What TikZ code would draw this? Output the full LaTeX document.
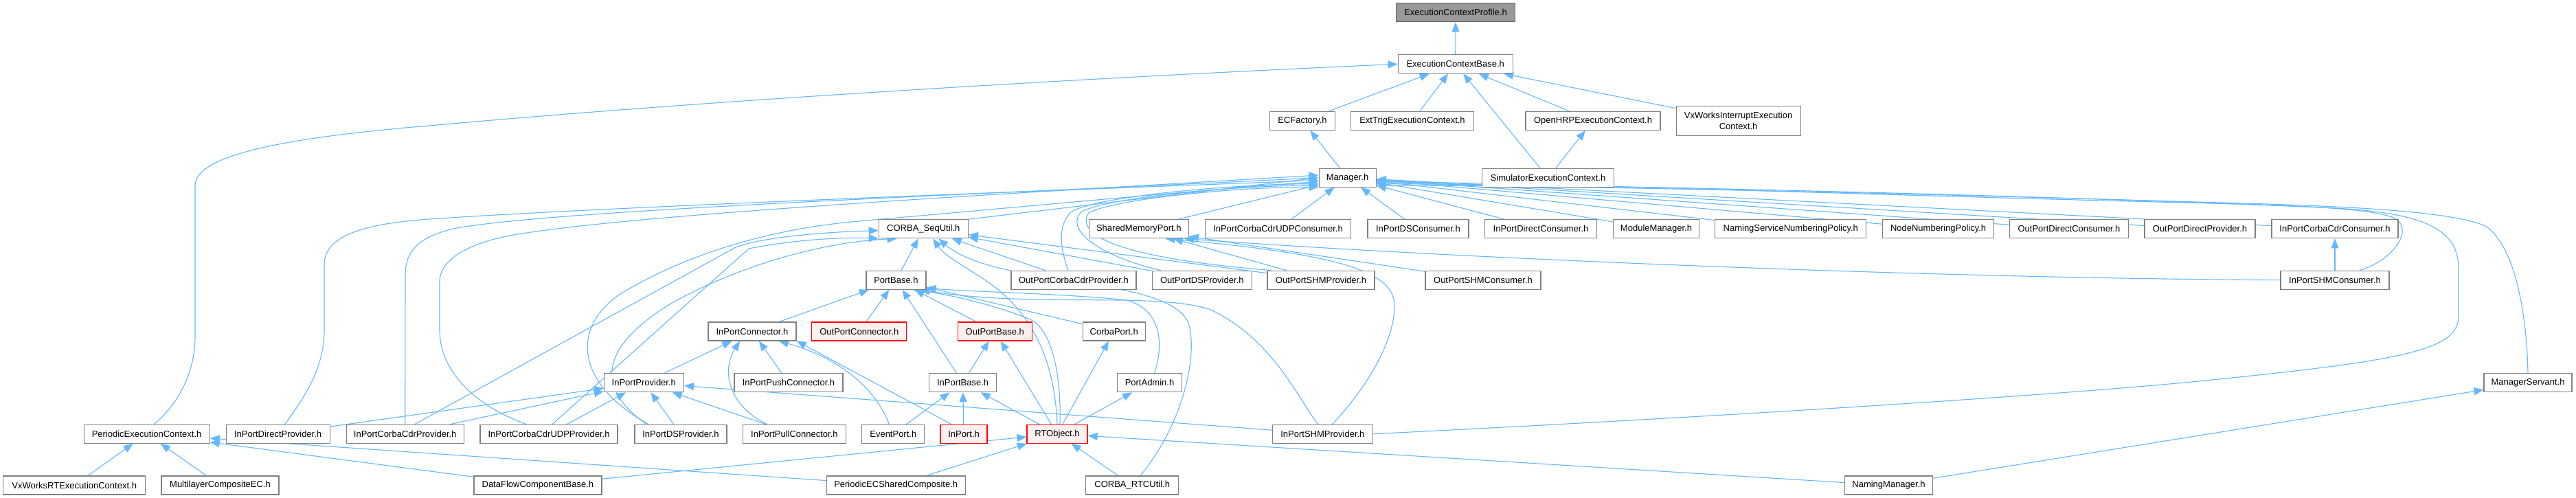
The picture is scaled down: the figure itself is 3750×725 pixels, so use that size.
\documentclass[tikz,border=0pt]{standalone}
\usepackage{fontspec}
\setmainfont{Liberation Sans}
\usetikzlibrary{arrows.meta}
\definecolor{edgeblue}{HTML}{63B8FF}
\definecolor{boxgray}{HTML}{808080}
\definecolor{rootgray}{HTML}{999999}
\definecolor{rootborder}{HTML}{666666}
\definecolor{redfill}{HTML}{FFF0F0}
\pgfdeclarelayer{back}
\pgfdeclarelayer{bg}
\pgfsetlayers{back,bg,main}
\begin{document}
\begin{tikzpicture}[x=1pt,y=-1pt,
  box/.style={draw=boxgray, fill=white, line width=1.2pt, minimum height=27pt, inner sep=0pt, font=\fontsize{13}{16}\selectfont, text=black, align=center},
  redbox/.style={box, draw=red, fill=redfill},
  rootbox/.style={box, draw=rootborder, fill=rootgray},
  dep/.style={draw=edgeblue, line width=1.1pt, -{Triangle[length=14pt,width=11pt]}}]
\useasboundingbox (0,0) rectangle (3750,725);
\begin{pgfonlayer}{back}
\fill[white] (0,0) rectangle (3750,725);
\end{pgfonlayer}
% row 1-4
\node[rootbox, minimum width=173pt] (prof) at (2119,18.3) {ExecutionContextProfile.h};
\node[box, minimum width=167pt] (ecb) at (2118.7,93.3) {ExecutionContextBase.h};
\node[box, minimum width=95pt] (ecf) at (1896,176) {ECFactory.h};
\node[box, minimum width=179pt] (ext) at (2056,176) {ExtTrigExecutionContext.h};
\node[box, minimum width=196pt] (ohrp) at (2319,176) {OpenHRPExecutionContext.h};
\node[box, minimum width=181pt, minimum height=43pt] (vxi) at (2530.6,175.8) {VxWorksInterruptExecution\\Context.h};
\node[box, minimum width=83pt] (mgr) at (1961.6,258.7) {Manager.h};
\node[box, minimum width=192pt] (sim) at (2253.5,258.7) {SimulatorExecutionContext.h};
% row 5
\node[box, minimum width=130pt] (seq) at (1344.3,333.3) {CORBA\_SeqUtil.h};
\node[box, minimum width=145pt] (shm) at (1657.8,333.3) {SharedMemoryPort.h};
\node[box, minimum width=212pt] (ipcudpc) at (1860.5,333.3) {InPortCorbaCdrUDPConsumer.h};
\node[box, minimum width=147pt] (ipdsc) at (2064.4,333.3) {InPortDSConsumer.h};
\node[box, minimum width=163pt] (ipdirc) at (2243,333.3) {InPortDirectConsumer.h};
\node[box, minimum width=125pt] (modm) at (2411,333.3) {ModuleManager.h};
\node[box, minimum width=220pt] (nsnp) at (2606.8,333.3) {NamingServiceNumberingPolicy.h};
\node[box, minimum width=162pt] (nnp) at (2821.6,333.3) {NodeNumberingPolicy.h};
\node[box, minimum width=173pt] (opdc) at (3012,333.3) {OutPortDirectConsumer.h};
\node[box, minimum width=161pt] (opdp) at (3202.5,333.3) {OutPortDirectProvider.h};
\node[box, minimum width=184pt] (ipccc) at (3399,333.3) {InPortCorbaCdrConsumer.h};
% row 6
\node[box, minimum width=87pt] (pb) at (1304.4,407.7) {PortBase.h};
\node[box, minimum width=182pt] (opccp) at (1562.9,407.7) {OutPortCorbaCdrProvider.h};
\node[box, minimum width=145pt] (opdsp) at (1749.8,407.7) {OutPortDSProvider.h};
\node[box, minimum width=156pt] (opshmp) at (1923,407.7) {OutPortSHMProvider.h};
\node[box, minimum width=168pt] (opshmc) at (2159,407.7) {OutPortSHMConsumer.h};
\node[box, minimum width=158pt] (ipshmc) at (3399,407.7) {InPortSHMConsumer.h};
% row 7
\node[box, minimum width=128pt] (ipconn) at (1095,482.5) {InPortConnector.h};
\node[redbox, minimum width=138pt] (opconn) at (1250.8,482.5) {OutPortConnector.h};
\node[redbox, minimum width=108pt] (opb) at (1448.3,482.5) {OutPortBase.h};
\node[box, minimum width=91pt] (cport) at (1621.7,482.5) {CorbaPort.h};
% row 8
\node[box, minimum width=116pt] (ipprov) at (937.3,557.2) {InPortProvider.h};
\node[box, minimum width=158pt] (ippush) at (1148,557.2) {InPortPushConnector.h};
\node[box, minimum width=98pt] (ipb) at (1401.6,557.2) {InPortBase.h};
\node[box, minimum width=94pt] (padm) at (1673.5,557.2) {PortAdmin.h};
\node[box, minimum width=128pt] (msrv) at (3680,557.2) {ManagerServant.h};
% row 9
\node[box, minimum width=183pt] (pec) at (213.6,631.7) {PeriodicExecutionContext.h};
\node[box, minimum width=151pt] (ipdirp) at (404.6,631.7) {InPortDirectProvider.h};
\node[box, minimum width=171pt] (ipccp) at (589.7,631.7) {InPortCorbaCdrProvider.h};
\node[box, minimum width=200pt] (ipcudpp) at (799,631.7) {InPortCorbaCdrUDPProvider.h};
\node[box, minimum width=134pt] (ipdsp) at (991,631.7) {InPortDSProvider.h};
\node[box, minimum width=150pt] (ippull) at (1156.4,631.7) {InPortPullConnector.h};
\node[box, minimum width=91pt] (evp) at (1300.3,631.7) {EventPort.h};
\node[redbox, minimum width=68pt] (inp) at (1403,631.7) {InPort.h};
\node[redbox, minimum width=88pt] (rto) at (1539,631.7) {RTObject.h};
\node[box, minimum width=146pt] (ipshmp) at (1925.4,631.7) {InPortSHMProvider.h};
% row 10
\node[box, minimum width=207pt] (vxrt) at (108.2,706.5) {VxWorksRTExecutionContext.h};
\node[box, minimum width=171pt] (mlc) at (320.5,706.5) {MultilayerCompositeEC.h};
\node[box, minimum width=186pt] (dfcb) at (782.9,706.5) {DataFlowComponentBase.h};
\node[box, minimum width=202pt] (pecsc) at (1304.2,706.5) {PeriodicECSharedComposite.h};
\node[box, minimum width=135pt] (rtcu) at (1648.2,706.5) {CORBA\_RTCUtil.h};
\node[box, minimum width=128pt] (nmgr) at (2749.5,706.5) {NamingManager.h};

\begin{pgfonlayer}{bg}
% top part
\draw[dep] (ecb) -- (prof);
\draw[dep] (ecf) -- (ecb);
\draw[dep] (ext) -- (ecb);
\draw[dep] (ohrp) -- (ecb);
\draw[dep] (vxi) -- (ecb);
\draw[dep] (sim) -- (ecb);
\draw[dep] (sim) -- (ohrp);
\draw[dep] (mgr) -- (ecf);
\draw[dep] ([xshift=11pt]pec.north) .. controls (262,585) and (284,540) .. (284,490) -- (284,270) .. controls (284,225) and (420,200) .. (625,183) .. controls (1100,140) and (1700,108) .. (ecb.west);
% into Manager
\draw[dep] (seq.north east) -- (mgr.west);
\draw[dep] (shm) -- (mgr);
\draw[dep] (ipcudpc) -- (mgr);
\draw[dep] (ipdsc) -- (mgr);
\draw[dep] (ipdirc) -- (mgr);
\draw[dep] (modm) -- (mgr);
\draw[dep] (nsnp) -- (mgr);
\draw[dep] (nnp) -- (mgr);
\draw[dep] (opdc) -- (mgr);
\draw[dep] (opdp) -- (mgr);
\draw[dep] (ipccc) -- (mgr);
\draw[dep] ([xshift=10pt]ipdirp.north) .. controls (450,570) and (472,530) .. (472,480) -- (472,385) .. controls (472,340) and (540,325) .. (625,319) .. controls (900,300) and (1600,275) .. (mgr.185);
\draw[dep] (ipccp.north) -- (590,400) .. controls (590,365) and (610,345) .. (660,333) .. controls (800,305) and (1500,280) .. (mgr.180);
\draw[dep] ([xshift=-33pt]ipcudpp.north) .. controls (690,590) and (640,540) .. (640,480) -- (640,410) .. controls (640,375) and (690,350) .. (760,340) .. controls (950,310) and (1500,280) .. (mgr.175);
\draw[dep] ([xshift=-47pt]ipdsp.north) .. controls (840,560) and (830,480) .. (900,430) .. controls (980,380) and (1100,335) .. (1250,322) .. controls (1500,300) and (1800,272) .. (mgr.188);
\draw[dep] ([xshift=-8pt]opccp.north) .. controls (1548,375) and (1535,330) .. (1560,308) .. controls (1600,285) and (1800,268) .. (mgr.192);
\draw[dep] ([xshift=-60pt]opdsp.north) .. controls (1590,370) and (1550,330) .. (1575,308) .. controls (1610,288) and (1800,270) .. (mgr.195);
\draw[dep] ([xshift=-72pt]opshmp.north) .. controls (1620,375) and (1565,340) .. (1585,310) .. controls (1620,290) and (1800,272) .. (mgr.198);
\draw[dep] ([xshift=36pt]ipshmc.north) .. controls (3480,380) and (3512,340) .. (3490,320) .. controls (3460,300) and (3300,298) .. (3100,293) .. controls (2600,280) and (2300,268) .. (mgr.-8);
\draw[dep] (msrv.north) .. controls (3678,450) and (3660,360) .. (3620,330) .. controls (3580,310) and (3450,302) .. (3300,297) .. controls (2800,282) and (2300,270) .. (mgr.-15);
\draw[dep] (ipshmp.east) .. controls (2500,607) and (3000,575) .. (3200,555) .. controls (3500,525) and (3579,510) .. (3579,460) -- (3579,390) .. controls (3579,330) and (3520,310) .. (3400,303) .. controls (3000,285) and (2300,268) .. (mgr.-12);
% SharedMemoryPort / consumers
\draw[dep] (ipshmc) -- (ipccc);
\draw[dep] (ipshmc.west) .. controls (2800,405) and (2100,375) .. (shm.-12);
\draw[dep] (opshmc) -- (shm);
\draw[dep] (opshmp) -- (shm);
\draw[dep] ([xshift=14pt]ipshmp.north) .. controls (1985,570) and (2030,500) .. (2030,445) .. controls (2030,395) and (1950,370) .. (shm.-20);
\draw[dep] (nmgr) -- (msrv);
\draw[dep] (nmgr) -- (rto);
% into CORBA_SeqUtil
\draw[dep] (pb) -- (seq);
\draw[dep] (opccp) -- (seq);
\draw[dep] (opdsp) -- (seq);
\draw[dep] (opshmp) -- (seq);
\draw[dep] ([xshift=14pt]ipccp.north) -- (1071,360) .. controls (1110,345) and (1200,338) .. (seq.182);
\draw[dep] ([xshift=5pt]ipcudpp.north) -- (1090,362) .. controls (1150,350) and (1220,345) .. (seq.192);
\draw[dep] ([xshift=-50pt]ipdsp.north) .. controls (860,560) and (880,500) .. (980,440) .. controls (1080,385) and (1200,352) .. (seq.200);
\draw[dep] (rto.north) .. controls (1535,520) and (1500,450) .. (1430,405) .. controls (1395,382) and (1375,372) .. ([xshift=14pt]seq.south);
\draw[dep] ([xshift=12pt]rtcu.north) .. controls (1720,620) and (1745,520) .. (1730,470) .. controls (1700,400) and (1450,420) .. ([xshift=22pt]seq.south);
% into PortBase
\draw[dep] (ipconn) -- (pb);
\draw[dep] (opconn) -- (pb);
\draw[dep] (opb) -- (pb);
\draw[dep] (ipb) -- (pb);
\draw[dep] (cport) -- (pb);
\draw[dep] ([xshift=4pt]rto.north) .. controls (1545,540) and (1530,480) .. (1500,465) .. controls (1450,445) and (1390,430) .. (pb.-30);
\draw[dep] ([xshift=7pt]padm.north) .. controls (1695,500) and (1690,450) .. (1640,437) .. controls (1560,428) and (1420,425) .. (pb.-15);
\draw[dep] ([xshift=-7pt]ipshmp.north) .. controls (1890,580) and (1850,490) .. (1760,450) .. controls (1680,425) and (1500,448) .. (pb.-22);
% InPortConnector / InPortProvider
\draw[dep] (ipprov) -- (ipconn);
\draw[dep] (ippush) -- (ipconn);
\draw[dep] ([xshift=-40pt]ippull.north) .. controls (1060,590) and (1050,540) .. ([xshift=-18pt]ipconn.south);
\draw[dep] ([xshift=-6pt]evp.north) .. controls (1275,565) and (1220,520) .. (ipconn.-20);
\draw[dep] ([xshift=-18pt]inp.north) -- (ipconn.-12);
\draw[dep] (ipdirp) -- (ipprov);
\draw[dep] (ipccp) -- (ipprov);
\draw[dep] (ipcudpp) -- (ipprov);
\draw[dep] (ipdsp) -- (ipprov);
\draw[dep] (ippull) -- (ipprov);
\draw[dep] (ipshmp) -- (ipprov);
% port bases
\draw[dep] (ipb) -- (opb);
\draw[dep] (rto) -- (opb);
\draw[dep] (rto) -- (cport);
\draw[dep] (rto) -- (padm);
\draw[dep] (rto) -- (ipb);
\draw[dep] (evp) -- (ipb);
\draw[dep] (inp) -- (ipb);
% RTObject and PeriodicExecutionContext
\draw[dep] (dfcb) -- (rto);
\draw[dep] (pecsc) -- (rto);
\draw[dep] (rtcu) -- (rto);
\draw[dep] (pecsc) -- (pec);
\draw[dep] (dfcb) -- (pec);
\draw[dep] (vxrt) -- (pec);
\draw[dep] (mlc) -- (pec);
\end{pgfonlayer}
\end{tikzpicture}
\end{document}
